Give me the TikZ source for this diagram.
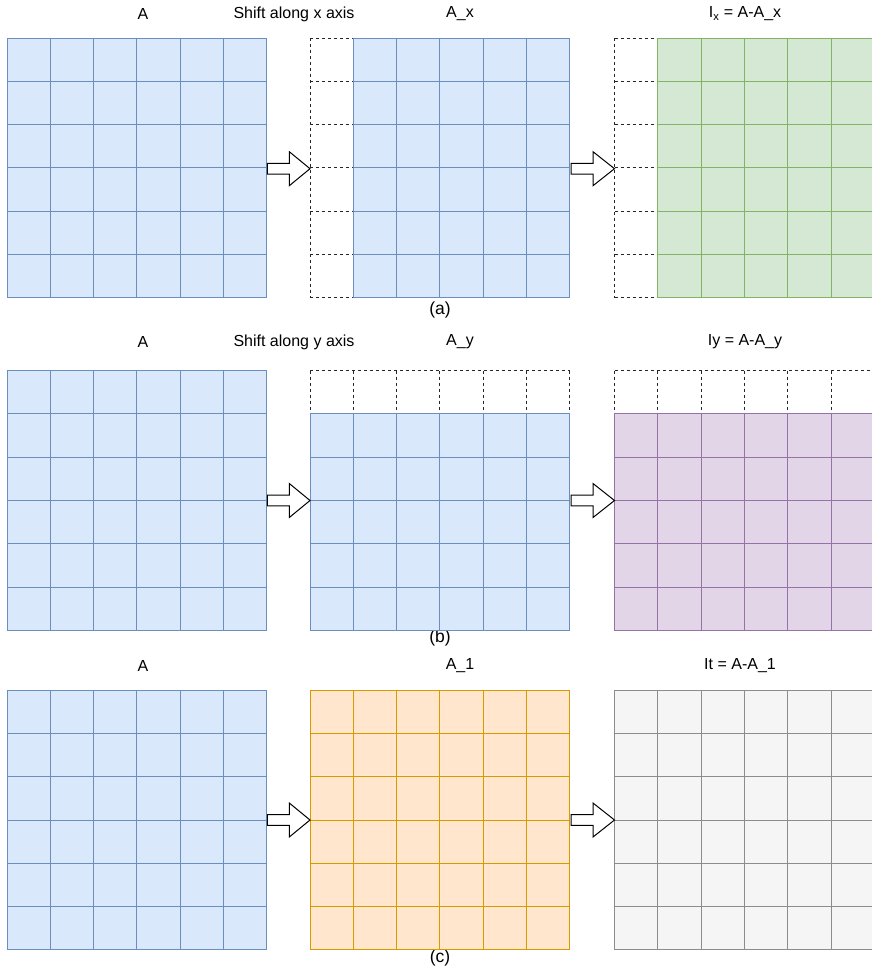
\documentclass[tikz,border=0pt]{standalone}
\usepackage{fontspec}
\setmainfont{Liberation Sans}
\usetikzlibrary{calc}
\definecolor{bfill}{HTML}{DAE8FC}\definecolor{bline}{HTML}{6C8EBF}
\definecolor{gfill}{HTML}{D5E8D4}\definecolor{gline}{HTML}{82B366}
\definecolor{pfill}{HTML}{E1D5E7}\definecolor{pline}{HTML}{9673A6}
\definecolor{ofill}{HTML}{FFE6CC}\definecolor{oline}{HTML}{D79B00}
\definecolor{kfill}{HTML}{F5F5F5}\definecolor{kline}{HTML}{8C8C8C}
\newcommand\mygrid[5]{% x, y, cols, rows, colour prefix
  \foreach \i in {1,...,#3}{\foreach \j in {1,...,#4}{
    \path[fill=#5fill,draw=#5line,line width=1pt]
      ({#1+(\i-1)*43.33},{#2+(\j-1)*43.33}) rectangle ++(43.33,43.33);}}}
\newcommand\dashgrid[4]{% x, y, cols, rows
  \fill[white] (#1,#2) rectangle ++({#3*43.33},{#4*43.33});
  \foreach \i in {0,...,#3}{
    \draw[dashgrid] ({#1+\i*43.33},#2) -- ++(0,{#4*43.33});}
  \foreach \j in {0,...,#4}{
    \draw[dashgrid] (#1,{#2+\j*43.33}) -- ++({#3*43.33},0);}}
\newcommand\blockarrow[3]{% x0, x1, y
  \draw[line width=1pt,fill=white,line join=miter]
    (#1,#3-5.3) -- (#1+22,#3-5.3) -- (#1+22,#3-17) -- (#2,#3)
    -- (#1+22,#3+17) -- (#1+22,#3+5.3) -- (#1,#3+5.3) -- cycle;}
\tikzset{lbl/.style={font=\fontsize{16}{19}\selectfont,inner sep=0pt,anchor=center},
  caplbl/.style={font=\fontsize{17.5}{20}\selectfont,inner sep=0pt,anchor=center},
  dashgrid/.style={draw=black!85,line width=1pt,dash pattern=on 3pt off 3pt}}
\begin{document}
\begin{tikzpicture}[x=1pt,y=-1pt]
\useasboundingbox (0,0) rectangle (872,977);
\clip (0,0) rectangle (872,977);
% labels row a
\node[lbl] (la1) at (143,14) {A};
\node[lbl] (la2) at (294,14) {Shift along x axis};
\node[lbl] (la3) at (460,14) {A\_x};
\node[lbl] (la4) at (745,14) {I\textsubscript{x} = A-A\_x};
\node[caplbl] (ca) at (440,310) {(a)};
% row a grids
\mygrid{7}{38}{6}{6}{b}
\dashgrid{310}{38}{1}{6}
\mygrid{353.33}{38}{5}{6}{b}
\dashgrid{614.5}{38}{1}{6}
\mygrid{657.8}{38}{5}{6}{g}
\blockarrow{267.3}{310}{168.7}
\blockarrow{571}{614.5}{168.7}
% labels row b
\node[lbl] (lb1) at (143,342) {A};
\node[lbl] (lb2) at (294,342) {Shift along y axis};
\node[lbl] (lb3) at (460,342) {A\_y};
\node[lbl] (lb4) at (745,342) {Iy = A-A\_y};
\node[caplbl] (cb) at (440,638) {(b)};
\mygrid{7}{370.5}{6}{6}{b}
\dashgrid{310}{370.5}{6}{1}
\mygrid{310}{413.8}{6}{5}{b}
\dashgrid{614.5}{370.5}{6}{1}
\mygrid{614.5}{413.8}{6}{5}{p}
\blockarrow{267.3}{310}{500.5}
\blockarrow{571}{614.5}{500.5}
% labels row c
\node[lbl] (lc1) at (143,666) {A};
\node[lbl] (lc3) at (460,666) {A\_1};
\node[lbl] (lc4) at (740,666) {It = A-A\_1};
\node[caplbl] (cc) at (440,958) {(c)};
\mygrid{7}{690}{6}{6}{b}
\mygrid{310}{690}{6}{6}{o}
\mygrid{614.5}{690}{6}{6}{k}
\blockarrow{267.3}{310}{820}
\blockarrow{571}{614.5}{820}
\end{tikzpicture}
\end{document}
